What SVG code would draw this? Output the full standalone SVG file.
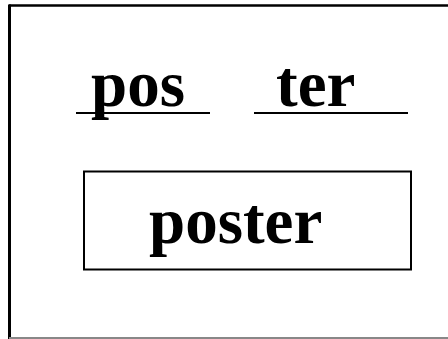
<svg xmlns="http://www.w3.org/2000/svg" width="448" height="339" viewBox="0 0 448 339">
<style>
.t{font-family:"Liberation Serif","Times New Roman",serif;font-weight:bold;font-size:65px;fill:#000}
.u{stroke:#000;stroke-width:2;fill:none}
</style>
<rect width="448" height="339" fill="#fff"/>
<g id="frame">
<line x1="9" y1="5.5" x2="448" y2="5.5" stroke="#000" stroke-width="2.5"/>
<line x1="9.5" y1="4.5" x2="9.5" y2="339" stroke="#000" stroke-width="3"/>
<line x1="9" y1="338" x2="448" y2="338" stroke="#888" stroke-width="2"/>
</g>
<g id="pos">
<text class="t" x="91" y="106">pos</text>
<line class="u" x1="76" y1="113" x2="210" y2="113"/>
</g>
<g id="ter">
<text class="t" x="276" y="106">ter</text>
<line class="u" x1="254" y1="113" x2="408" y2="113"/>
</g>
<g id="poster">
<rect x="84" y="171.5" width="327" height="98" fill="none" stroke="#000" stroke-width="2"/>
<text class="t" x="149" y="243">poster</text>
</g>
</svg>
